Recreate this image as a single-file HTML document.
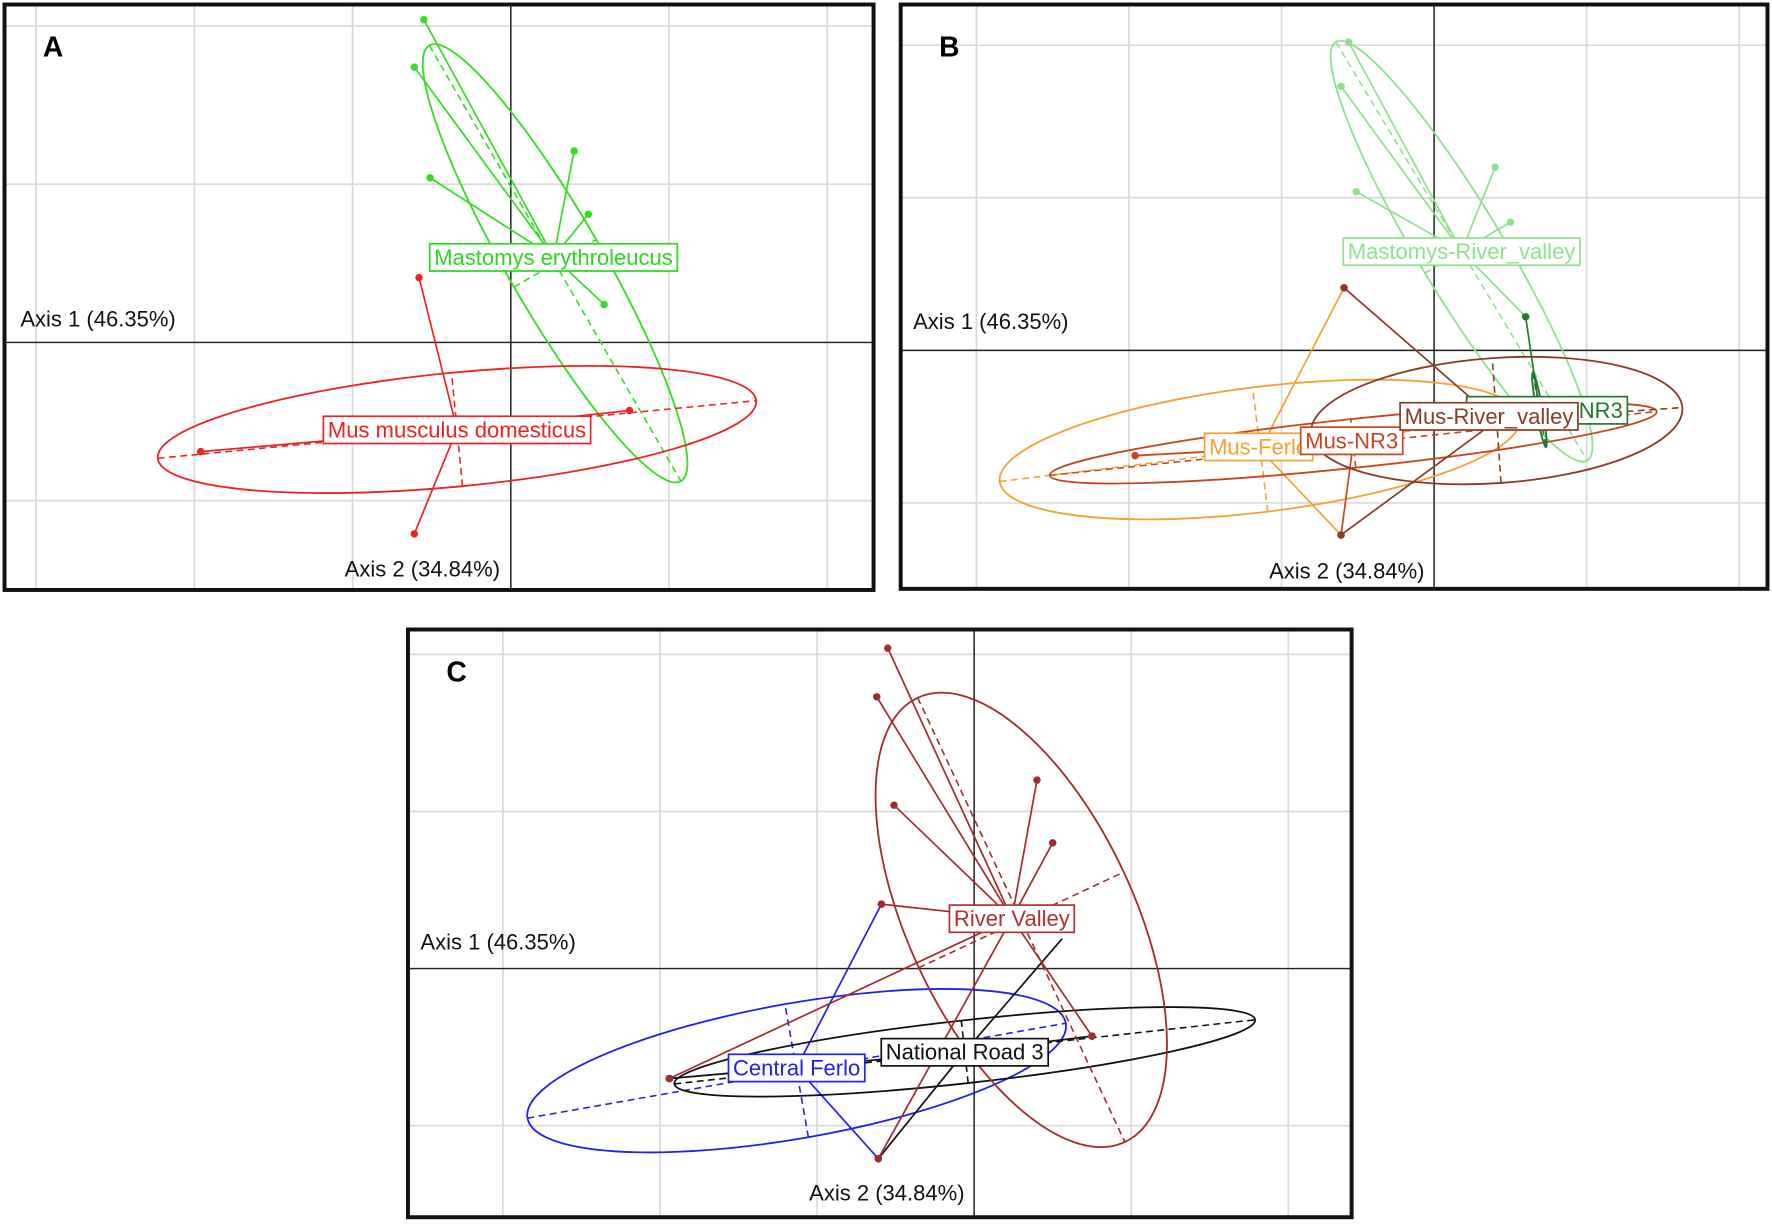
<!DOCTYPE html>
<html><head><meta charset="utf-8"><style>
html,body{margin:0;padding:0;background:#fff;overflow:hidden;width:1772px;height:1224px;}
svg{display:block;}
text{font-family:"Liberation Sans",Arial,sans-serif;}
</style></head><body>
<svg id="fig" width="1772" height="1224" viewBox="0 0 1568 1083" preserveAspectRatio="none" xmlns="http://www.w3.org/2000/svg"></svg>
<script>
// ===== Data (in axis units) =====
// Panel A
const aMastPts = [[-0.55,2.04],[-0.61,1.74],[0.40,1.21],[-0.51,1.04],[0.49,0.81],[0.59,0.24]];
const aMastCentroid = [0.27,0.54];
const aMastEllipse = [0.28,0.50,1.59,0.30,-60];
const aMusPts = [[-0.58,0.41],[-1.96,-0.69],[0.75,-0.43],[-0.61,-1.21]];
const aMusCentroid = [-0.34,-0.55];
const aMusEllipse = [-0.34,-0.55,1.90,0.36,5.5];
// Panel B
const bMastRVPts = [[-0.56,2.02],[-0.61,1.73],[0.40,1.20],[-0.51,1.04],[0.50,0.84],[0.60,0.22]];
const bMastRVCentroid = [0.18,0.65];
const bMastRVEllipse = [0.18,0.65,1.60,0.28,-59];
const bMastNR3Pts = [[0.60,0.22]];
const bMastNR3Centroid = [0.69,-0.39];
const bMastNR3Ellipse = [0.69,-0.39,0.25,0.02,-80];
const bMusFerloPts = [[-0.59,0.41],[-0.61,-1.21],[-1.96,-0.69]];
const bMusFerloCentroid = [-1.14,-0.65];
const bMusFerloEllipse = [-1.14,-0.65,1.72,0.41,7];
const bMusNR3Pts = [[-1.96,-0.69],[-0.61,-1.21]];
const bMusNR3Centroid = [-0.53,-0.61];
const bMusNR3Ellipse = [-0.53,-0.61,2.0,0.16,6];
const bMusRVPts = [[-0.59,0.41],[-0.61,-1.21]];
const bMusRVCentroid = [0.41,-0.46];
const bMusRVEllipse = [0.41,-0.46,1.22,0.41,4];
// Panel C
const cRVPts = [[-0.55,2.04],[-0.62,1.73],[0.40,1.20],[-0.51,1.04],[0.50,0.80],[-0.59,0.41],[0.75,-0.43],[-1.94,-0.70],[-0.61,-1.21]];
const cRVCentroid = [0.24,0.32];
const cRVEllipse = [0.30,0.31,1.56,0.72,-65];
const cNR3Pts = [[0.75,-0.43],[-1.94,-0.70],[-0.61,-1.21]];
const cNR3Centroid = [-0.06,-0.53];
const cNR3Ellipse = [-0.06,-0.53,1.86,0.20,6.3];
const cCFPts = [[-0.59,0.41],[-1.94,-0.70],[-0.61,-1.21]];
const cCFCentroid = [-1.13,-0.63];
const cCFEllipse = [-1.13,-0.65,1.74,0.43,10];
const gridTicks = [-3,-2,-1,0,1,2,3];

const NS="http://www.w3.org/2000/svg";
const fig=document.getElementById('fig');
function mk(tag,attrs,parent){const e=document.createElementNS(NS,tag);for(const k in attrs)e.setAttribute(k,attrs[k]);(parent||fig).appendChild(e);return e;}

function panel(id,letter,box,ox,oy,s,axLab){
  const g=mk('g',{});
  
  
  const cp=mk('clipPath',{id:'clip'+id},g);
  mk('rect',{x:box[0],y:box[1],width:box[2]-box[0],height:box[3]-box[1]},cp);
  const inner=mk('g',{'clip-path':'url(#clip'+id+')'},g);
  const X=v=>ox+v*s, Y=v=>oy-v*s;
  gridTicks.forEach(t=>{
    const vl=mk('line',{x1:X(t),x2:X(t),y1:box[1],y2:box[3],stroke:'#d9d9d9','stroke-width':1.5},inner);
    
    
    const hl=mk('line',{y1:Y(t),y2:Y(t),x1:box[0],x2:box[2],stroke:'#d9d9d9','stroke-width':1.5},inner);
    
    
  });
  const ax1=mk('line',{x1:box[0],x2:box[2],y1:Y(0),y2:Y(0),stroke:'#222','stroke-width':1.3},inner);
  
  
  const ax2=mk('line',{x1:X(0),x2:X(0),y1:box[1],y2:box[3],stroke:'#222','stroke-width':1.3},inner);
  
  
  const t1=mk('text',{x:axLab[0],y:axLab[1],'font-size':19.5,fill:'#111'},inner);t1.textContent='Axis 1 (46.35%)';
  
  
  const t2=mk('text',{x:axLab[2],y:axLab[3],'font-size':19.5,fill:'#111'},inner);t2.textContent='Axis 2 (34.84%)';
  
  
  const L=mk('text',{x:box[0]+34,y:box[1]+46,'font-size':25,'font-weight':'bold',fill:'#000'},g);L.textContent=letter;
  
  
  const fr=mk('rect',{x:box[0],y:box[1],width:box[2]-box[0],height:box[3]-box[1],fill:'none',stroke:'#111','stroke-width':3.5},g);
  
  
  return {inner,X,Y};
}

function addLabel(P,name,text,pos,col){
  const {inner,X,Y}=P;
  const lg=mk('g',{},inner);
  
  
  const t=mk('text',{x:X(pos[0]),y:Y(pos[1])+7,'font-size':19.5,'text-anchor':'middle',fill:col},lg);
  t.textContent=text;
  const bb=t.getBBox();
  const rc=mk('rect',{x:bb.x-4,y:bb.y-1,width:bb.width+8,height:bb.height+2,fill:'#fff',stroke:col,'stroke-width':1.5},lg);
  lg.insertBefore(rc,t);
}

function group(P,name,color,pts,cen,ell,label,labCol){
  const {inner,X,Y}=P;
  const g=mk('g',{},inner);
  
  
  const [ex,ey,a,b,ang]=ell;
  const r=ang*Math.PI/180;
  const ux=Math.cos(r),uy=Math.sin(r),vx=-Math.sin(r),vy=Math.cos(r);
  const e=mk('ellipse',{cx:X(ex),cy:Y(ey),rx:X(a)-X(0),ry:X(b)-X(0),fill:'none',stroke:color,'stroke-width':1.6},g);
  e.setAttribute('transform','rotate('+(-ang)+' '+X(ex)+' '+Y(ey)+')');
  
  
  const d1=mk('line',{x1:X(ex-a*ux),y1:Y(ey-a*uy),x2:X(ex+a*ux),y2:Y(ey+a*uy),stroke:color,'stroke-width':1.4,'stroke-dasharray':'6,4'},g);
  
  
  const d2=mk('line',{x1:X(ex-b*vx),y1:Y(ey-b*vy),x2:X(ex+b*vx),y2:Y(ey+b*vy),stroke:color,'stroke-width':1.4,'stroke-dasharray':'6,4'},g);
  
  
  pts.forEach(p=>{
    const l=mk('line',{x1:X(p[0]),y1:Y(p[1]),x2:X(cen[0]),y2:Y(cen[1]),stroke:color,'stroke-width':1.5},g);
    
    
    const c=mk('circle',{cx:X(p[0]),cy:Y(p[1]),r:3.3,fill:color},g);
    
    
  });
  if(label) addLabel(P,'label-'+name,label,cen,labCol||color);
}

// Panel A
const PA=panel('a','A',[4,4,773,522],452,303,140,[18,289,305,510]);
group(PA,'mastomys','#33dd22',aMastPts,aMastCentroid,aMastEllipse,'Mastomys erythroleucus','#2ad81e');
group(PA,'mus','#ee2222',aMusPts,aMusCentroid,aMusEllipse,'Mus musculus domesticus');
// Panel B
const PB=panel('b','B',[797,4,1564,521],1269,310,135,[808,291,1123,512]);
group(PB,'mastomys-river-valley','#8fe08f',bMastRVPts,bMastRVCentroid,bMastRVEllipse,'Mastomys-River_valley');
group(PB,'mus-ferlo','#f7a030',bMusFerloPts,bMusFerloCentroid,bMusFerloEllipse,null);
group(PB,'mus-nr3','#c8461e',bMusNR3Pts,bMusNR3Centroid,bMusNR3Ellipse,null);
group(PB,'mus-river-valley','#8a3a26',bMusRVPts,bMusRVCentroid,bMusRVEllipse,null);
group(PB,'mastomys-nr3','#1e7a2a',bMastNR3Pts,bMastNR3Centroid,bMastNR3Ellipse,null);
addLabel(PB,'label-mastomys-nr3','Mastomys-NR3',[0.74,-0.39],'#1e7a2a');
addLabel(PB,'label-mus-ferlo','Mus-Ferlo',[-1.15,-0.63],'#f7a030');
addLabel(PB,'label-mus-nr3','Mus-NR3',[-0.54,-0.59],'#c8461e');
addLabel(PB,'label-mus-river-valley','Mus-River_valley',[0.36,-0.43],'#8a3a26');
// Panel C
const PC=panel('c','C',[361,557,1196,1077],862,857,139,[372,840,716,1062]);
group(PC,'central-ferlo','#2020ee',cCFPts,cCFCentroid,cCFEllipse,null);
group(PC,'national-road-3','#111111',cNR3Pts,cNR3Centroid,cNR3Ellipse,null);
(function(){const {inner,X,Y}=PC;
  const l=mk('line',{x1:X(0.56),y1:Y(0.19),x2:X(-0.06),y2:Y(-0.53),stroke:'#111','stroke-width':1.5},inner);
  
  
})();
group(PC,'river-valley','#a52a2a',cRVPts,cRVCentroid,cRVEllipse,'River Valley','#b03030');
addLabel(PC,'label-national-road-3','National Road 3',cNR3Centroid,'#111');
addLabel(PC,'label-central-ferlo','Central Ferlo',cCFCentroid,'#2020ee');
</script>
</body></html>
